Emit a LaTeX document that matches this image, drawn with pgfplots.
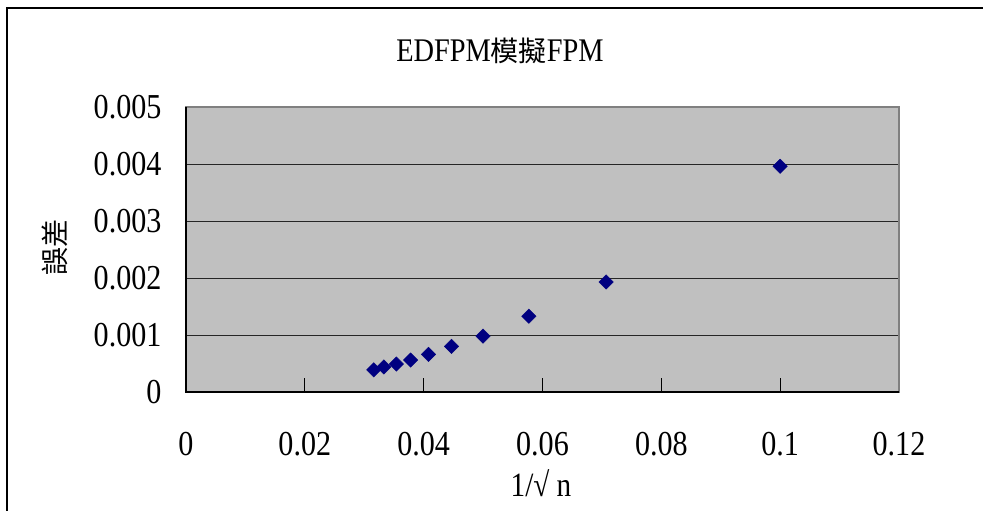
\documentclass[border=0pt]{standalone}
\usepackage{pgfplots}
\pgfplotsset{compat=1.18}
\usepackage{fontspec}
\setmainfont[FakeStretch=0.86]{Liberation Serif}
\newfontfamily\cjk{Noto Sans CJK TC}
\definecolor{plotgray}{HTML}{C0C0C0}
\definecolor{bordergray}{HTML}{808080}
\definecolor{navy}{HTML}{000080}
\begin{document}
\begin{tikzpicture}[x=1pt,y=1pt]
\useasboundingbox (0,0) rectangle (983,511);
\draw[line width=2.6pt] (7,-5) -- (7,503) -- (990,503);
\begin{axis}[
  at={(186pt,119pt)}, anchor=south west,
  scale only axis, width=713pt, height=285pt,
  xmin=0, xmax=0.12, ymin=0, ymax=0.005,
  xtick={0,0.02,0.04,0.06,0.08,0.1,0.12},
  ytick={0,0.001,0.002,0.003,0.004,0.005},
  xticklabels={0,0.02,0.04,0.06,0.08,0.1,0.12},
  yticklabels={0,0.001,0.002,0.003,0.004,0.005},
  scaled ticks=false,
  axis background/.style={fill=plotgray},
  axis line style={draw=bordergray, line width=1.2pt},
  ymajorgrids, grid style={black!85, line width=0.9pt},
  tick label style={font=\fontsize{35}{40}\selectfont},
  xtick align=inside, ytick style={draw=none},
  xtick style={black, line width=0.8pt},
  major tick length=14pt,
  xtick pos=bottom,
  xticklabel style={yshift=-37pt},
  yticklabel style={xshift=-21pt},
  clip=false,
]
\draw[black, line width=1.4pt] (axis cs:0,0.005) -- (axis cs:0,0) -- (axis cs:0.12,0);
\addplot[only marks, mark=square*, mark size=5.1pt, color=navy, mark options={rotate=45, fill=navy, draw=navy}]
  coordinates {
  (0.1000,0.00396)
  (0.0707,0.00193)
  (0.0577,0.00133)
  (0.0500,0.00098)
  (0.0447,0.00080)
  (0.0408,0.00066)
  (0.0378,0.00056)
  (0.0354,0.00049)
  (0.0333,0.00044)
  (0.0316,0.00039)
  };
\end{axis}
\node[anchor=base, font=\fontsize{33}{38}\selectfont] at (500,449) {EDFPM{\cjk\fontsize{28}{30}\selectfont 模擬}FPM};
\node[anchor=base, font=\fontsize{34}{38}\selectfont] at (541,14) {1/√ n};
\node[rotate=90, font=\cjk\fontsize{28}{30}\selectfont] at (55,263) {誤差};
\end{tikzpicture}
\end{document}
